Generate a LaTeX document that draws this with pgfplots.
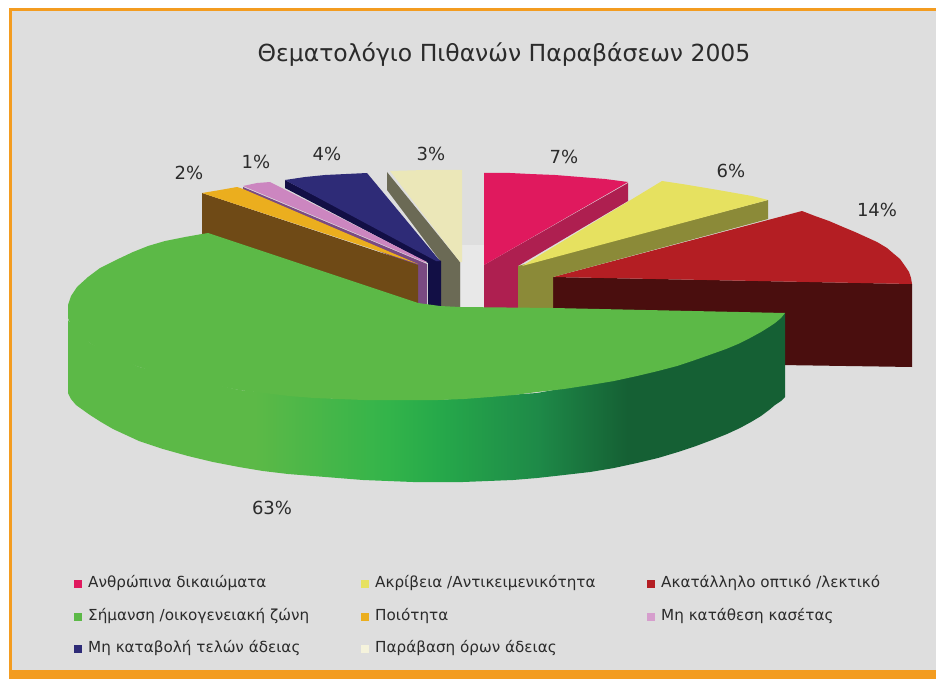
\documentclass[border=0pt]{standalone}
\usepackage{pgfplots}
\pgfplotsset{compat=1.18}
\usepackage{fontspec}
\setmainfont{DejaVu Sans}

\definecolor{bggray}{HTML}{DEDEDE}
\definecolor{frame}{HTML}{F39C20}
\definecolor{ink}{HTML}{2B2B2B}
\definecolor{pinktop}{HTML}{E0195E}
\definecolor{pinkside}{HTML}{AE1F50}
\definecolor{yeltop}{HTML}{E6E160}
\definecolor{yelside}{HTML}{8B8A38}
\definecolor{redtop}{HTML}{B41E23}
\definecolor{redside}{HTML}{4A0E0E}
\definecolor{greentop}{HTML}{5CB947}
\definecolor{orgtop}{HTML}{EBAE1E}
\definecolor{orgside}{HTML}{6F4A16}
\definecolor{liltop}{HTML}{CC86C0}
\definecolor{lilside}{HTML}{7A4A82}
\definecolor{navytop}{HTML}{2E2B77}
\definecolor{navyside}{HTML}{120F45}
\definecolor{begtop}{HTML}{EBE7B8}
\definecolor{begside}{HTML}{6B6A55}
\definecolor{gra}{HTML}{33B44A}
\definecolor{grb}{HTML}{26A94A}
\definecolor{grc}{HTML}{1E8A48}
\definecolor{grd}{HTML}{156034}

% path is 68..785 px wide; the visible part of a shading is 25bp..75bp
\pgfdeclarehorizontalshading{greenside}{100bp}{
  color(0bp)=(greentop); color(38bp)=(greentop);
  color(47.3bp)=(gra);
  color(50.8bp)=(grb);
  color(57.7bp)=(grc);
  color(64bp)=(grd);
  color(100bp)=(grd)}

\tikzset{
    poly/.style={draw=none, mark=none},
    lab/.style={font=\fontsize{18}{21}\selectfont, text=ink, inner sep=0pt},
    leg/.style={font=\fontsize{15.2}{18}\selectfont, text=ink, inner sep=0pt, anchor=west},
    key/.style={only marks, mark=square*, mark size=3.6pt, draw=none},
}

\begin{document}
\begin{tikzpicture}
\begin{axis}[
    scale only axis,
    width=936pt, height=679pt,
    xmin=0, xmax=936, ymin=0, ymax=679,
    y dir=reverse,
    hide axis,
    clip=false,
]
% page and frame
\addplot[poly, fill=white] coordinates {(0,0) (936,0) (936,679) (0,679)} --cycle;
\addplot[poly, fill=frame] coordinates {(9,8) (936,8) (936,679) (9,679)} --cycle;
\addplot[poly, fill=bggray] coordinates {(12,11) (936,11) (936,670) (12,670)} --cycle;
\addplot[poly, fill=bggray!70!white] coordinates {(461,245) (484,245) (484,307) (461,307)} --cycle;

% red 14%
\addplot[poly, fill=redside] coordinates {(553,277) (912,284) (912,367) (780,365) (553,310)} --cycle;
\addplot[poly, fill=redtop] coordinates {(553,277) (802,211) (815,216) (829,221) (843,227) (855,232) (866,237) (877,242) (887,248) (894,254) (900,259) (905,266) (909,272) (911,278) (912,284)} --cycle;

% pink 7%
\addplot[poly, fill=pinkside] coordinates {(484,265) (628,183) (628,201) (518,266) (518,308) (484,308)} --cycle;
\addplot[poly, fill=pinktop] coordinates {(484,173) (510,173) (530,174) (555,175) (580,177) (605,179) (628,182) (484,265)} --cycle;

% yellow 6%
\addplot[poly, fill=yelside] coordinates {(518,266) (768,200) (768,219) (553,277) (553,308) (518,308)} --cycle;
\addplot[poly, fill=yeltop] coordinates {(522,266) (662,181) (682,184) (700,187) (718,190) (735,193) (752,196) (768,200)} --cycle;

% beige 3%
\addplot[poly, fill=begside] coordinates {(387,172) (460,262) (460,307) (441,307) (441,262) (387,190)} --cycle;
\addplot[poly, fill=begtop] coordinates {(390,171) (425,170) (462,170) (462,262) (460,262)} --cycle;

% navy 4%
\addplot[poly, fill=navyside] coordinates {(285,180) (285,188) (428,263) (428,306) (441,306) (441,261)} --cycle;
\addplot[poly, fill=navytop] coordinates {(285,180) (305,177) (325,175) (346,174) (367,173) (440,261) (436,261)} --cycle;

% lilac 1%
\addplot[poly, fill=lilside] coordinates {(243,187) (427,264) (427,306) (418,304) (418,268) (243,192)} --cycle;
\addplot[poly, fill=liltop] coordinates {(243,186) (257,183) (270,182) (427,262) (424,262)} --cycle;

% orange 2%
\addplot[poly, fill=orgside] coordinates {(202,193) (418,265) (418,306) (202,236)} --cycle;
\addplot[poly, fill=orgtop] coordinates {(202,193) (220,190) (237,187) (243,189) (418,264)} --cycle;

% green 63%, side then top
\addplot[poly, shading=greenside] coordinates {(68,303) (68,393) (71,399) (76,405) (83,410) (90,415) (101,422) (113,429) (126,435) (139,441) (163,449) (188,456) (213,462) (239,467) (263,471) (288,474) (313,476) (338,478) (363,480) (388,481) (413,482) (438,482) (463,482) (488,481) (513,480) (537,478) (564,475) (590,472) (614,468) (637,463) (658,458) (678,452) (696,446) (712,440) (727,434) (740,428) (751,422) (761,416) (769,410) (775,405) (781,401) (785,397) (785,313) (761,330) (712,353) (637,375) (537,393) (438,400) (339,399) (239,390) (139,367) (90,343) (68,320)} --cycle;
\addplot[poly, fill=greentop] coordinates {(202,234) (208,233) (418,303) (440,306) (460,307) (553,308) (785,313) (781,318) (775,323) (769,327) (761,332) (750,338) (738,344) (726,349) (712,354) (695,360) (677,366) (658,371) (637,376) (614,381) (590,385) (564,389) (537,392) (514,395) (490,397) (464,399) (438,400) (413,400) (388,400) (364,400) (339,399) (314,398) (289,396) (264,393) (239,390) (214,385) (189,380) (164,374) (139,367) (124,361) (110,354) (100,349) (90,343) (82,337) (76,331) (71,325) (68,318) (68,305) (71,296) (77,287) (88,277) (100,268) (116,260) (133,252) (148,246) (165,241) (185,237)} --cycle;

% legend keys
\addplot[key, pinktop] coordinates {(78,584)};
\addplot[key, yeltop] coordinates {(365,584)};
\addplot[key, redtop] coordinates {(651,584)};
\addplot[key, greentop] coordinates {(78,617)};
\addplot[key, orgtop] coordinates {(365,617)};
\addplot[key, liltop!80!white] coordinates {(651,617)};
\addplot[key, navytop] coordinates {(78,649)};
\addplot[key, begtop!50!white] coordinates {(365,649)};

% texts
\node[text=ink, inner sep=0pt, font=\fontsize{23.5}{28}\selectfont] at (axis cs:504,55) {Θεματολόγιο Πιθανών Παραβάσεων 2005};
\node[lab] at (axis cs:564,157) {7\%};
\node[lab] at (axis cs:731,171) {6\%};
\node[lab] at (axis cs:877,210) {14\%};
\node[lab] at (axis cs:272,508) {63\%};
\node[lab] at (axis cs:189,173) {2\%};
\node[lab] at (axis cs:256,162) {1\%};
\node[lab] at (axis cs:327,154) {4\%};
\node[lab] at (axis cs:431,154) {3\%};

\node[leg] at (axis cs:88,583) {Ανθρώπινα δικαιώματα};
\node[leg] at (axis cs:375,583) {Ακρίβεια /Αντικειμενικότητα};
\node[leg] at (axis cs:661,583) {Ακατάλληλο οπτικό /λεκτικό};
\node[leg] at (axis cs:88,616) {Σήμανση /οικογενειακή ζώνη};
\node[leg] at (axis cs:375,616) {Ποιότητα};
\node[leg] at (axis cs:661,616) {Μη κατάθεση κασέτας};
\node[leg] at (axis cs:88,648) {Μη καταβολή τελών άδειας};
\node[leg] at (axis cs:375,648) {Παράβαση όρων άδειας};
\end{axis}
\end{tikzpicture}
\end{document}
